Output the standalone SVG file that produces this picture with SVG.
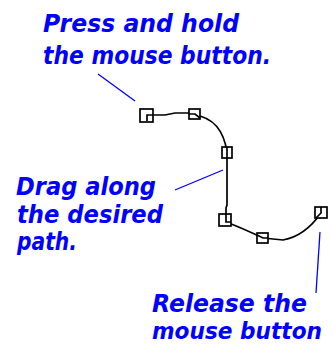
<svg xmlns="http://www.w3.org/2000/svg" width="333" height="351" viewBox="0 0 333 351">
<style>
.lbl{font-family:"DejaVu Sans",sans-serif;font-weight:bold;font-style:italic;font-size:24px;fill:#0000ff}
.lead{stroke:#0000ff;stroke-width:1.3;fill:none}
.curve{stroke:#000;stroke-width:1.7;fill:none}
.hnd{stroke:#000;stroke-width:1.7;fill:#fff}
</style>
<rect width="333" height="351" fill="#fff"/>
<g id="label-press">
<text class="lbl" x="43" y="32" textLength="196" lengthAdjust="spacingAndGlyphs">Press and hold</text>
<text class="lbl" x="43" y="64" textLength="228" lengthAdjust="spacingAndGlyphs">the mouse button.</text>
</g>
<g id="label-drag">
<text class="lbl" x="16" y="195" textLength="140" lengthAdjust="spacingAndGlyphs">Drag along</text>
<text class="lbl" x="17" y="223" textLength="146" lengthAdjust="spacingAndGlyphs">the desired</text>
<text class="lbl" x="17" y="250" textLength="60" lengthAdjust="spacingAndGlyphs">path.</text>
</g>
<g id="label-release">
<text class="lbl" x="152" y="312" textLength="155" lengthAdjust="spacingAndGlyphs">Release the</text>
<text class="lbl" x="152" y="339" style="font-size:22.5px" textLength="170" lengthAdjust="spacingAndGlyphs">mouse button</text>
</g>
<g id="connectors">
<path class="lead" d="M98,74 L135,101"/>
<path class="lead" d="M175,190 L223,170"/>
<path class="lead" d="M320,232 L316,293"/>
<path class="curve" d="M147,122 V115 H165 L175,113 H195"/>
<path class="curve" d="M195,115 Q222,119 227,152"/>
<path class="curve" d="M227,152 V205 L226,208 V220"/>
<path class="curve" d="M226,222 Q242,228 263,238"/>
<path class="curve" d="M263,238 L283,240 Q305,236 321,213"/>
</g>
<g id="handle-1"><rect class="hnd" x="140" y="109" width="13" height="13"/><path class="curve" d="M147,121 V115 H153"/></g>
<g id="handle-2"><rect class="hnd" x="189" y="109" width="11" height="10"/><path class="curve" d="M189,114 H195 L200,118"/></g>
<g id="handle-3"><rect class="hnd" x="222" y="147" width="10" height="11"/><path class="curve" d="M227,147 V158"/></g>
<g id="handle-4"><rect class="hnd" x="219" y="214" width="12" height="12"/><path class="curve" d="M226,214 V222 H231"/></g>
<g id="handle-5"><rect class="hnd" x="257" y="233" width="11" height="10"/><path class="curve" d="M257,235 L263,238 H268"/></g>
<g id="handle-6"><rect class="hnd" x="315" y="207" width="12" height="11"/><path class="curve" d="M321,207 V213 L316,218"/></g>
</svg>
